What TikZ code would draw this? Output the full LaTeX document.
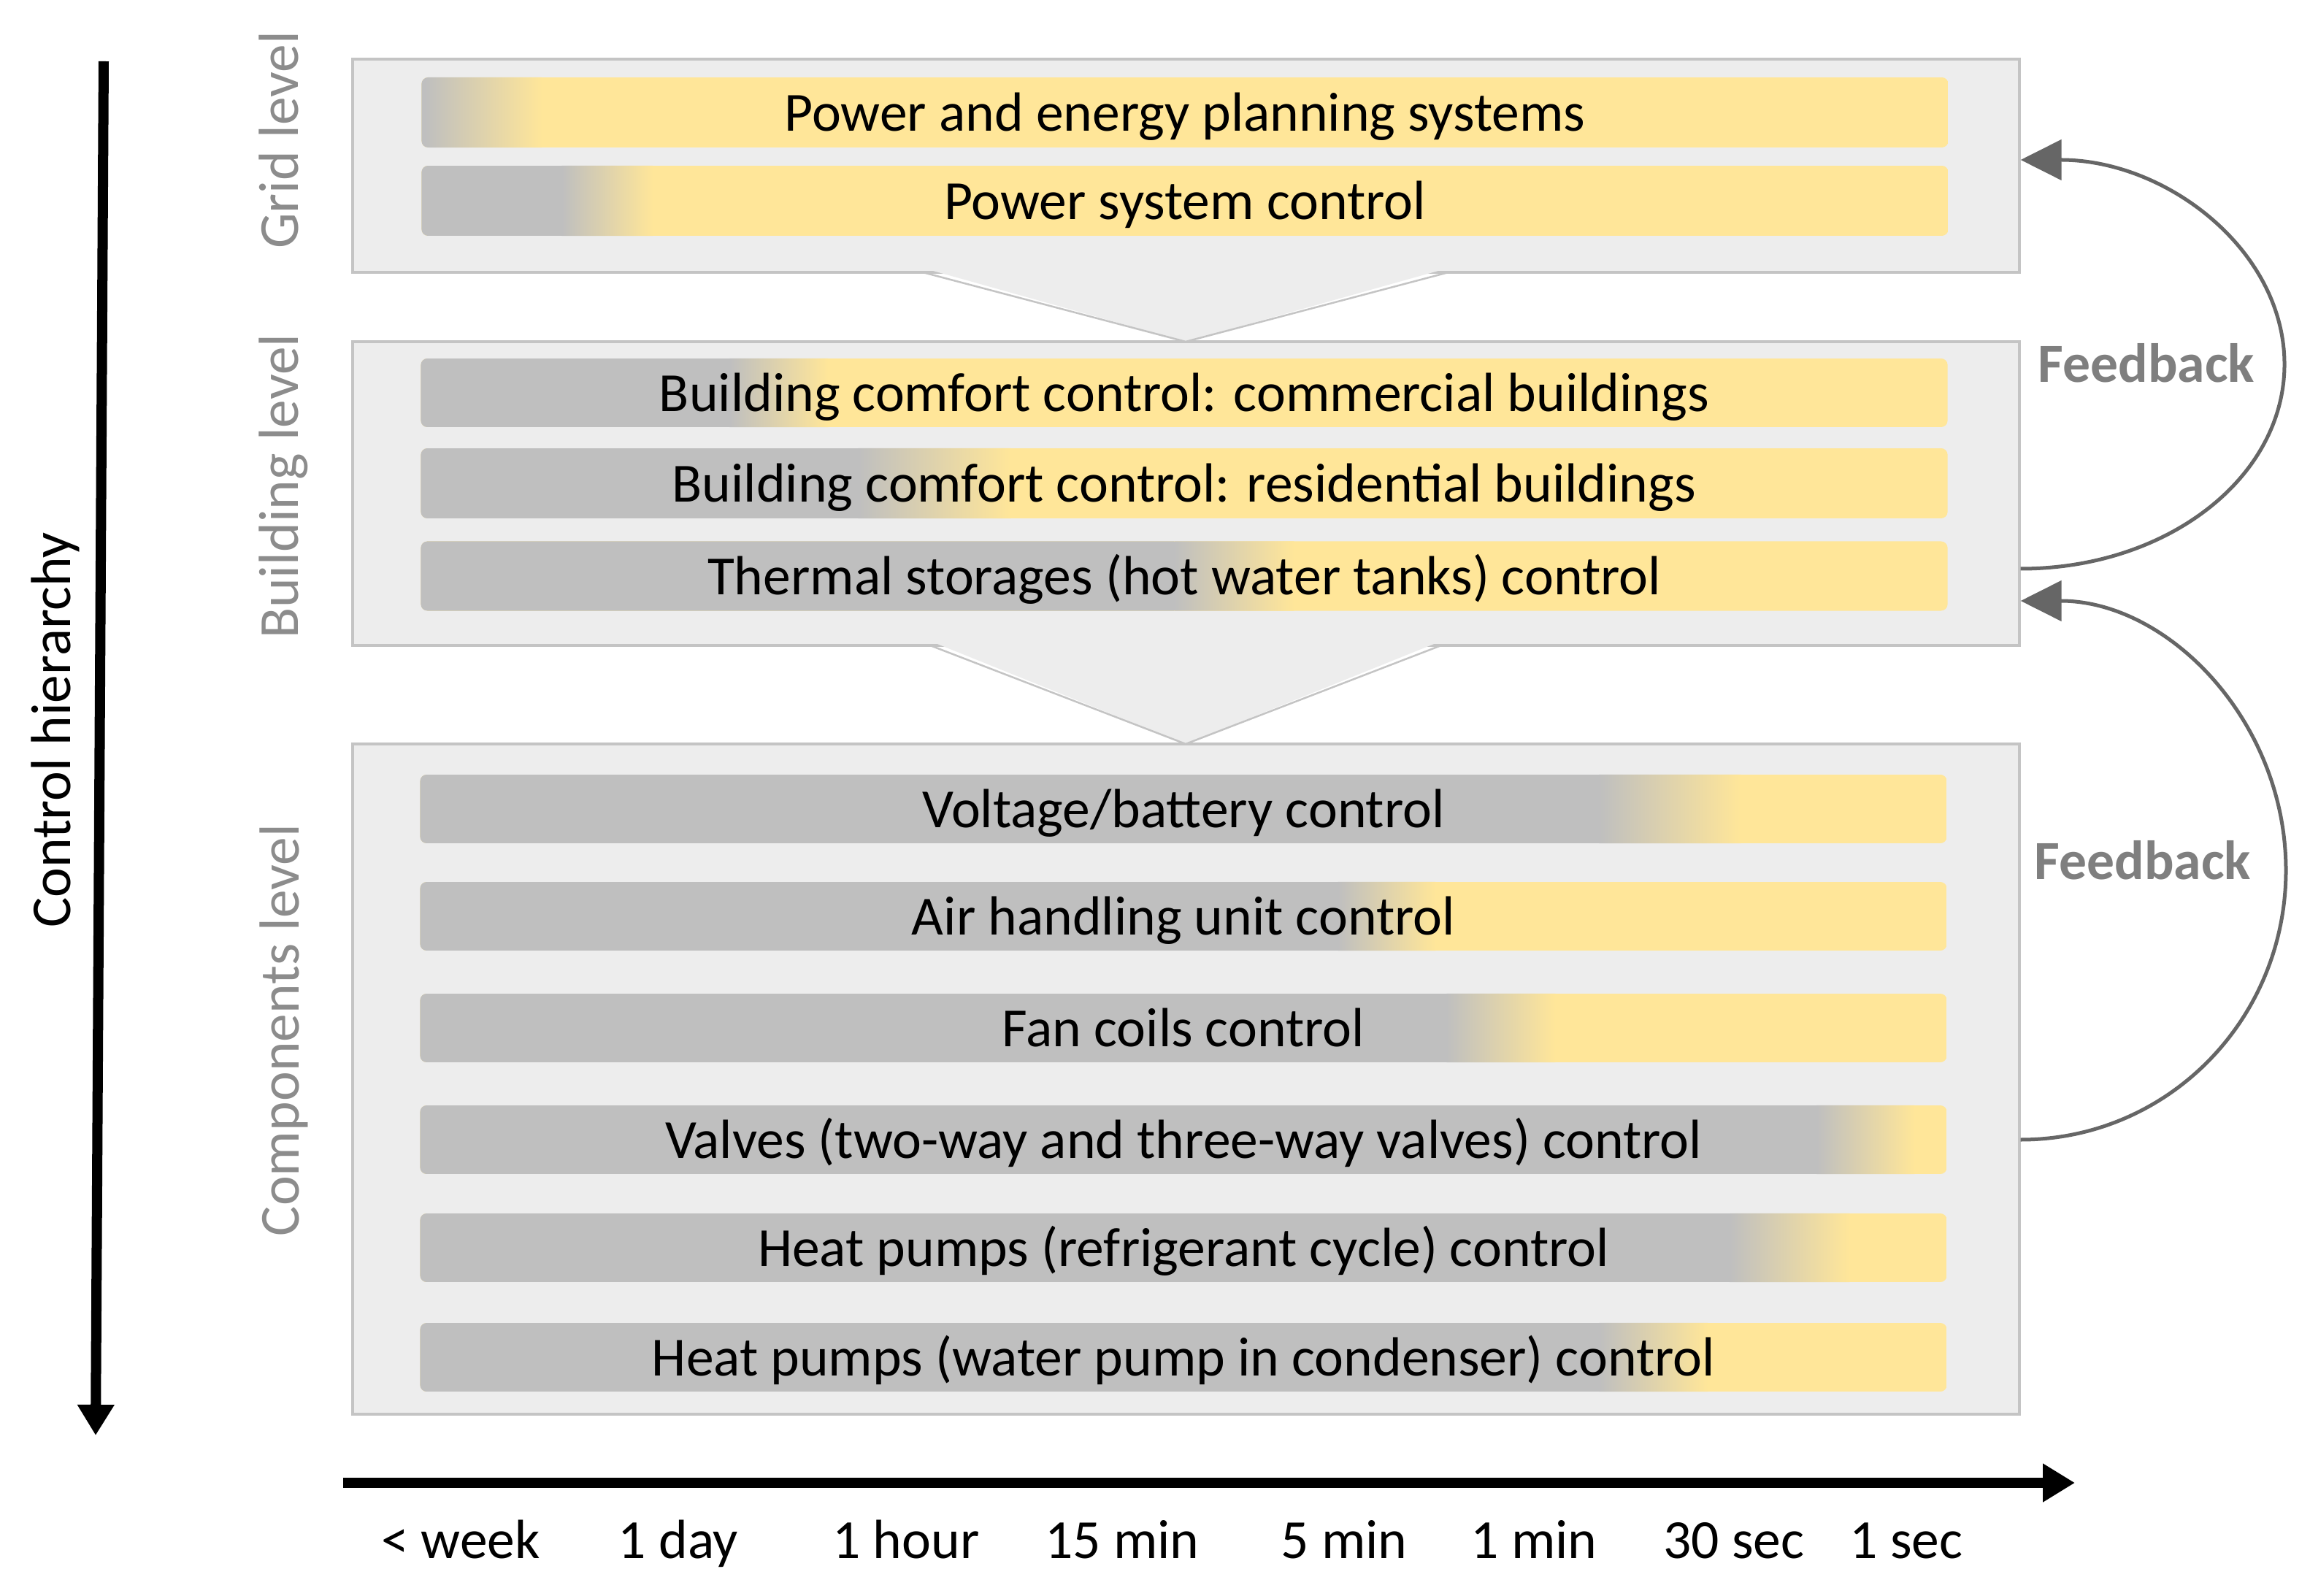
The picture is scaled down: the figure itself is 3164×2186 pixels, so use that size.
\documentclass[tikz,border=0pt]{standalone}
\usepackage{fontspec}
\setmainfont{Carlito}
\usetikzlibrary{arrows.meta,calc}
\definecolor{bargray}{HTML}{BFBFBF}
\definecolor{baryel}{HTML}{FFE699}
\definecolor{panelfill}{HTML}{EDEDED}
\definecolor{panelline}{HTML}{C4C4C4}
\definecolor{lvlgray}{HTML}{8C8C8C}
\definecolor{fbgray}{HTML}{7F7F7F}
\definecolor{arrgray}{HTML}{666666}
\begin{document}
\begin{tikzpicture}[x=0.01cm,y=-0.01cm,
  panel/.style={draw=panelline, fill=panelfill, line width=0.04cm, inner sep=0pt},
  chev/.style={fill=panelfill},
  chevedge/.style={draw=panelline, line width=0.025cm},
  ctlbar/.style n args={2}{rounded corners=0.09cm, inner sep=0pt, minimum width=20.9cm,
    minimum height=0.95cm, text height=0.62cm, text depth=0.12cm,
    font=\fontsize{21.5}{26}\selectfont,
    path picture={
      \fill[baryel, sharp corners] (path picture bounding box.south west) rectangle (path picture bounding box.north east);
      \fill[bargray, sharp corners] (path picture bounding box.south west) rectangle ([xshift=#1*0.01cm]path picture bounding box.north west);
      \shade[sharp corners, left color=bargray, right color=baryel] ([xshift=#1*0.01cm]path picture bounding box.south west) rectangle ([xshift=#2*0.01cm]path picture bounding box.north west);
    }},
  lvl/.style={rotate=90, anchor=base, text=lvlgray, font=\fontsize{22}{26}\selectfont},
  axlbl/.style={anchor=base, font=\fontsize{21.5}{26}\selectfont},
  fblbl/.style={anchor=base, text=fbgray, font=\fontsize{21.5}{26}\selectfont\bfseries},
  fbarrow/.style={draw=arrgray, line width=0.05cm, -{Triangle[length=0.56cm,width=0.55cm,fill=arrgray]}},
  bigarrow/.style={draw=black, line width=0.14cm}
]
\useasboundingbox (0,0) rectangle (3164,2186);
\fill[white] (0,0) rectangle (3164,2186);

% panels
\node[panel, minimum width=22.81cm, minimum height=2.92cm] (grid) at (1624.5,227) {};
\node[panel, minimum width=22.81cm, minimum height=4.16cm] (bld) at (1624.5,676) {};
\node[panel, minimum width=22.81cm, minimum height=9.18cm] (comp) at (1624.5,1478) {};

% chevrons
\fill[chev] (1264,367) -- (1984,367) -- (1624,468) -- cycle;
\draw[chevedge] (1264,373) -- (1624,468) -- (1984,373);
\fill[chev] (1274,878) -- (1974,878) -- (1624,1019) -- cycle;
\draw[chevedge] (1274,884) -- (1624,1019) -- (1974,884);

% grid bars (gradient offsets from bar left edge, in px)
\node[ctlbar={5}{165}, minimum height=0.96cm] (g1) at (1623,154) {Power and energy planning systems};
\node[ctlbar={192}{317}, minimum height=0.96cm] (g2) at (1623,275) {Power system control};
% building bars
\node[ctlbar={423}{558}, minimum height=0.94cm] (b1) at (1622,538) {Building comfort control: commercial buildings};
\node[ctlbar={599}{808}, minimum height=0.96cm] (b2) at (1622,662) {Building comfort control: residential buildings};
\node[ctlbar={1032}{1196}, minimum height=0.95cm] (b3) at (1622,789) {Thermal storages (hot water tanks) control};
% component bars
\node[ctlbar={1615}{1809}, minimum height=0.94cm] (c1) at (1621,1108) {Voltage/battery control};
\node[ctlbar={1257}{1391}, minimum height=0.94cm] (c2) at (1621,1255) {Air handling unit control};
\node[ctlbar={1406}{1555}, minimum height=0.94cm] (c3) at (1621,1408) {Fan coils control};
\node[ctlbar={1913}{2047}, minimum height=0.94cm] (c4) at (1621,1561) {Valves (two-way and three-way valves) control};
\node[ctlbar={1794}{1958}, minimum height=0.94cm] (c5) at (1621,1709) {Heat pumps (refrigerant cycle) control};
\node[ctlbar={1615}{1764}, minimum height=0.94cm] (c6) at (1621,1859) {Heat pumps (water pump in condenser) control};

% level labels
\node[lvl] (lgrid) at (408,192) {Grid level};
\node[lvl] (lbld) at (408,666) {Building level};
\node[lvl] (lcomp) at (409,1411) {Components level};
\node[rotate=90, anchor=base, font=\fontsize{22}{26}\selectfont] (hier) at (96,1000) {Control hierarchy};

% vertical hierarchy arrow
\coordinate (vtop) at (142,84);
\coordinate (vbot) at (131,1966);
\draw[bigarrow, -{Triangle[length=0.42cm,width=0.48cm]}] (vtop) -- (vbot);

% time axis
\coordinate (hleft) at (470,2031);
\coordinate (hright) at (2842,2031);
\draw[bigarrow, -{Triangle[length=0.44cm,width=0.5cm]}] (hleft) -- (hright);
\node[axlbl] (t1) at (631,2134) {< week};
\node[axlbl] (t2) at (929,2134) {1 day};
\node[axlbl] (t3) at (1241,2134) {1 hour};
\node[axlbl] (t4) at (1537,2134) {15 min};
\node[axlbl] (t5) at (1841,2134) {5 min};
\node[axlbl] (t6) at (2101,2134) {1 min};
\node[axlbl] (t7) at (2375,2134) {30 sec};
\node[axlbl] (t8) at (2611,2134) {1 sec};

% feedback loops
\coordinate (fb1s) at (bld.east |- 0,779);
\coordinate (fb1m) at (3129,499);
\coordinate (fb1e) at (grid.east |- 0,219);
\draw[fbarrow] (fb1s) .. controls +(201,0) and +(0,155) .. (fb1m)
               .. controls +(0,-155) and +(201,0) .. (fb1e);
\coordinate (fb2s) at (comp.east |- 0,1561);
\coordinate (fb2m) at (3131,1192);
\coordinate (fb2e) at (bld.east |- 0,823);
\draw[fbarrow] (fb2s) .. controls +(202,0) and +(0,204) .. (fb2m)
               .. controls +(0,-204) and +(202,0) .. (fb2e);
\node[fblbl] (fbt1) at (2940,524) {Feedback};
\node[fblbl] (fbt2) at (2935,1204) {Feedback};
\end{tikzpicture}
\end{document}
